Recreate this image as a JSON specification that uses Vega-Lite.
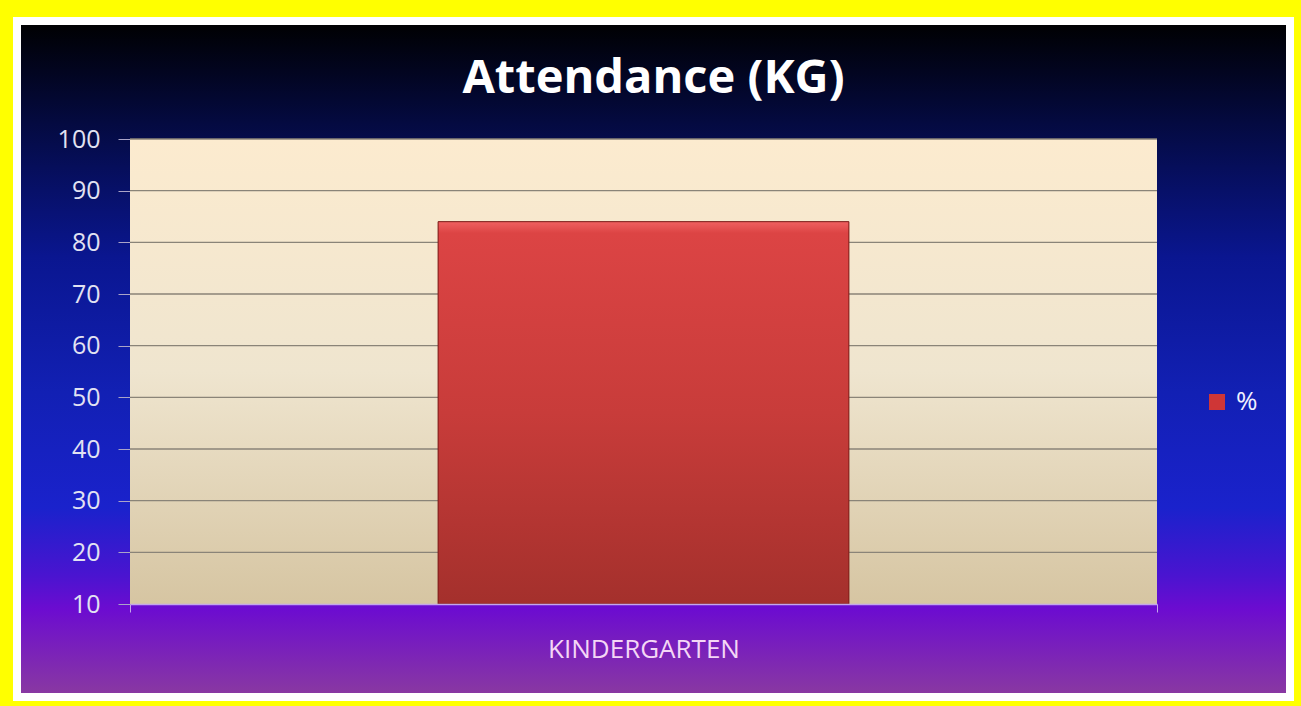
{
  "$schema": "https://vega.github.io/schema/vega-lite/v6.json",
  "width": 1273,
  "height": 676,
  "autosize": {"type": "none"},
  "padding": {"left": 17, "top": 21, "right": 11, "bottom": 9},
  "background": "#ffff00",
  "config": {
    "view": {
      "fill": {
        "gradient": "linear", "x1": 0, "y1": 0, "x2": 0, "y2": 1,
        "stops": [
          {"offset": 0, "color": "#000000"},
          {"offset": 0.15, "color": "#040a40"},
          {"offset": 0.35, "color": "#0a1690"},
          {"offset": 0.55, "color": "#1220b4"},
          {"offset": 0.72, "color": "#1a22cc"},
          {"offset": 0.82, "color": "#4a14d0"},
          {"offset": 0.87, "color": "#6c0cd0"},
          {"offset": 1, "color": "#8a3aa0"}
        ]
      },
      "stroke": "#ffffff",
      "strokeWidth": 8
    }
  },
  "title": {
    "text": "Attendance (KG)",
    "font": "Open Sans",
    "fontSize": 47,
    "fontWeight": "bold",
    "color": "#ffffff",
    "anchor": "middle",
    "offset": -82
  },
  "datasets": {
    "attendance": [
      {"level": "KINDERGARTEN", "series": "%", "percent": 84}
    ],
    "gridlines": [
      {"level": "KINDERGARTEN", "tick": 20},
      {"level": "KINDERGARTEN", "tick": 30},
      {"level": "KINDERGARTEN", "tick": 40},
      {"level": "KINDERGARTEN", "tick": 50},
      {"level": "KINDERGARTEN", "tick": 60},
      {"level": "KINDERGARTEN", "tick": 70},
      {"level": "KINDERGARTEN", "tick": 80},
      {"level": "KINDERGARTEN", "tick": 90},
      {"level": "KINDERGARTEN", "tick": 100}
    ]
  },
  "encoding": {
    "x": {
      "field": "level", "type": "nominal",
      "scale": {"range": [113, 1140], "paddingInner": 0, "paddingOuter": 0},
      "axis": {
        "orient": "bottom", "offset": -93, "title": null, "labelAngle": 0,
        "labelFont": "Open Sans", "labelFontSize": 26, "labelColor": "#f4d6f6",
        "labelLimit": 500,
        "labelPadding": 24, "tickBand": "extent", "tickSize": 8,
        "tickColor": "#c4a6ea", "domainColor": "#c4a6ea", "domainWidth": 1.5, "grid": false
      }
    }
  },
  "layer": [
    {
      "data": {"name": "attendance"},
      "mark": {
        "type": "rect",
        "fill": {
          "gradient": "linear", "x1": 0, "y1": 0, "x2": 0, "y2": 1,
          "stops": [
            {"offset": 0, "color": "#fcebcf"},
            {"offset": 0.5, "color": "#efe5cf"},
            {"offset": 1, "color": "#d6c5a2"}
          ]
        }
      },
      "encoding": {
        "y": {
          "datum": 10, "type": "quantitative",
          "scale": {"domain": [-8, 122.84], "nice": false, "zero": false},
          "axis": {
            "orient": "left", "offset": -113, "title": null,
            "values": [10, 20, 30, 40, 50, 60, 70, 80, 90, 100],
            "labelFont": "Open Sans", "labelFontSize": 25, "labelColor": "#e2e2f2",
            "labelPadding": 18, "tickSize": 12, "tickColor": "#aaa4c8",
            "domain": false, "grid": false
          }
        },
        "y2": {"datum": 100}
      }
    },
    {
      "data": {"name": "gridlines"},
      "mark": {"type": "rect", "filled": false, "stroke": "#8a8478", "strokeWidth": 1.3},
      "encoding": {
        "y": {"field": "tick", "type": "quantitative"},
        "y2": {"field": "tick"}
      }
    },
    {
      "data": {"name": "attendance"},
      "mark": {"type": "bar", "width": {"band": 0.4}},
      "encoding": {
        "y": {"field": "percent", "type": "quantitative"},
        "y2": {"datum": 10},
        "color": {
          "field": "series", "type": "nominal",
          "scale": {"range": ["#cf3636"]},
          "legend": {
            "orient": "none", "legendX": 1187, "legendY": 368, "title": null,
            "symbolType": "square", "symbolSize": 256, "symbolStrokeWidth": 0,
            "labelColor": "#f0f0ff", "labelFont": "Open Sans", "labelFontSize": 26,
            "labelOffset": 6, "padding": 0
          }
        }
      }
    },
    {
      "data": {"name": "attendance"},
      "mark": {
        "type": "bar", "width": {"band": 0.4},
        "fill": {
          "gradient": "linear", "x1": 0, "y1": 0, "x2": 0, "y2": 1,
          "stops": [
            {"offset": 0, "color": "#f06060"},
            {"offset": 0.03, "color": "#dc4444"},
            {"offset": 0.5, "color": "#c83c3a"},
            {"offset": 1, "color": "#a4302c"}
          ]
        },
        "stroke": "#7a1c18", "strokeWidth": 1
      },
      "encoding": {
        "y": {"field": "percent", "type": "quantitative"},
        "y2": {"datum": 10}
      }
    }
  ]
}
